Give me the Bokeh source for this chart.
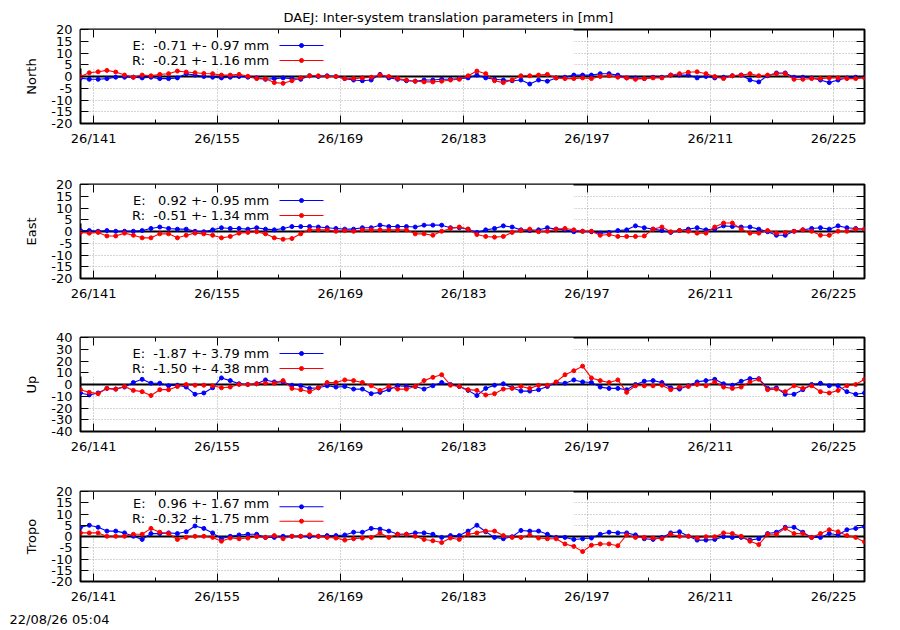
import re
from bokeh.plotting import figure
from bokeh.models import Range1d, FixedTicker, LinearAxis, BoxAnnotation, Span, Label, Title
from bokeh.layouts import column
from bokeh.embed import file_html
from bokeh.resources import INLINE

# ---------------- data ----------------
doy = list(range(139, 229))            # daily solutions, day of year 2026
x_days = [d + 0.5 for d in doy]        # plotted at noon

x_ticks = [141, 155, 169, 183, 197, 211, 225]
x_tick_labels = ["26/141", "26/155", "26/169", "26/183", "26/197", "26/211", "26/225"]
x_minor_ticks = [148, 162, 176, 190, 204, 218]

y_ticks_20 = [-20, -15, -10, -5, 0, 5, 10, 15, 20]
y_ticks_40 = [-40, -30, -20, -10, 0, 10, 20, 30, 40]

title_text = "DAEJ: Inter-system translation parameters in [mm]"
timestamp_text = "22/08/26 05:04"
panel_names = ["North", "East", "Up", "Tropo"]

north_E = [-0.7, -1.2, -1.2, -0.9, -0.3, -0.3, -0.3, -0.6, -0.3, -0.9,
           -0.9, -0.6, 1.2, 0.6, 0.0, -0.3, -0.6, -0.3, 0.0, -0.3,
           -0.6, -1.2, -0.9, -0.6, -0.9, -1.2, 0.3, 0.0, 0.3, 0.0,
           -0.9, -1.5, -1.8, -1.5, 0.9, -0.6, -1.2, -1.8, -2.0, -1.5,
           -1.5, -1.2, -1.2, -0.9, -0.6,
           0.6, -0.6, -1.2, -1.5, -1.8, -1.5, -3.2, -1.5, -2.0, -0.6,
           -0.3, 0.6, 0.6, 0.6, 1.2, 1.2, 0.6, -0.6, -0.6, -0.9,
           -0.3, -0.3, 0.6, 0.6, 0.6, -0.6, 0.0, -0.6, -0.3, 0.3,
           0.6, -1.5, -2.3, 0.3, 1.5, 1.5, -0.3, -0.3, -0.6, -1.5,
           -2.6, -1.5, -0.6, -0.3, -0.3]
north_R = [0.0, 1.6, 2.0, 2.6, 1.9, 0.6, -0.3, 0.6, 0.3, 0.9,
           1.2, 2.3, 1.9, 1.6, 1.3, 1.2, 0.6, 0.6, 0.9, 0.1,
           -0.9, -1.0, -2.6, -2.9, -1.8, -0.6, 0.3, 0.3, 0.0, 0.0,
           -0.9, -0.9, -0.6, -0.3, 0.6, 0.0, -0.9, -1.5, -2.0, -2.3,
           -2.3, -2.0, -1.5, -1.2, 0.3,
           2.3, 1.2, -1.8, -2.6, -1.5, 0.3, 0.3, 0.6, 0.9, -0.6,
           -0.9, -0.9, -0.6, -0.9, 0.0, 0.3, -0.3, -0.6, -1.2, -0.9,
           -0.6, -0.6, 0.6, 1.2, 1.8, 2.0, 1.2, 0.0, -0.9, 0.3,
           0.6, 1.2, 0.3, 0.6, 1.2, 1.2, -1.2, -1.2, -0.9, -0.9,
           -0.6, -0.6, -0.9, -0.9, -0.6]
east_E = [0.4, 0.4, 0.1, 0.4, 0.1, 0.1, 0.1, 0.4, 1.3, 1.9,
          1.3, 1.0, 1.0, 0.1, -0.1, 0.7, 1.6, 1.3, 1.3, 1.0,
          1.6, 1.0, 0.7, 1.3, 2.1, 2.1, 2.1, 1.9, 1.6, 1.3,
          1.0, 1.0, 1.6, 1.6, 2.7, 2.1, 2.1, 2.1, 1.9, 2.7,
          2.7, 2.7, 1.6, 1.6, 1.0,
          -0.4, 0.7, 1.3, 2.4, 1.9, 0.7, 0.4, 0.7, 1.6, 1.0,
          0.7, -0.1, 0.1, -0.1, -0.7, -0.4, 0.4, 0.7, 2.4, 1.6,
          1.0, 0.4, -0.4, 0.4, 1.0, 1.6, 0.7, 1.0, 2.4, 2.1,
          1.9, 1.9, 1.0, -0.1, -1.6, -1.6, 0.1, 0.7, 1.3, 1.6,
          1.0, 2.4, 1.6, 1.3, 1.0]
east_R = [-0.4, -0.7, -0.4, -1.9, -1.9, -0.7, -1.6, -2.7, -2.7, -1.0,
          -1.0, -2.7, -1.6, -0.7, -1.0, -1.6, -2.7, -2.1, -0.7, -0.4,
          -0.1, -1.0, -2.7, -3.3, -3.0, -1.0, 0.7, 0.7, 0.7, 0.1,
          0.4, 0.1, 0.7, 0.7, 0.7, 0.7, 0.7, 0.7, -1.0, -1.0,
          -1.6, 0.1, 1.3, 1.9, 1.0,
          -1.3, -2.1, -2.4, -2.1, -0.4, 0.4, 1.0, -0.1, 0.1, 1.0,
          1.3, 0.7, 0.1, 0.1, -1.6, -1.3, -2.1, -2.1, -2.1, -1.9,
          1.0, 1.9, -0.1, 0.4, 0.1, -0.7, -0.7, 1.9, 3.6, 3.6,
          1.0, -0.7, -0.7, 0.4, -0.7, -0.4, 0.1, 0.7, 0.1, -1.6,
          -1.6, 0.1, 0.1, 1.0, 1.0]
up_E = [-7.2, -8.9, -7.2, -3.3, -3.9, -2.2, 1.7, 4.4, 1.1, 1.1,
        -1.1, -0.6, -2.2, -8.3, -7.2, -2.8, 5.6, 3.3, 0.6, 0.0,
        0.6, 3.9, 2.2, 2.2, -0.6, -1.1, -3.3, -2.8, -1.1, -2.2,
        -1.7, -3.9, -3.9, -7.8, -6.7, -4.4, -1.1, -1.7, -1.7, -3.9,
        -1.1, 1.7, 0.0, -1.7, -5.0,
        -9.4, -3.3, -0.6, 0.6, -2.8, -5.6, -5.6, -4.4, -1.7, 1.7,
        1.1, 3.9, 2.2, 1.7, -2.2, -3.3, -3.3, -4.4, 0.0, 2.8,
        3.3, 1.7, -2.8, -3.9, -1.1, 2.2, 3.3, 4.4, 0.6, -0.6,
        2.8, 5.0, 5.0, -3.3, -2.8, -8.3, -8.3, -4.4, 0.0, 1.1,
        -1.1, -1.1, -6.1, -8.3, -7.2]
up_R = [-4.4, -6.7, -7.8, -3.3, -3.9, -1.7, -5.0, -6.1, -9.4, -4.4,
        -4.4, -1.7, 0.0, -0.6, -0.6, -1.1, -2.8, -2.2, 0.0, 0.0,
        0.6, 1.1, 1.1, 3.3, -3.3, -4.4, -6.1, -2.8, 1.7, 1.7,
        3.9, 3.3, 1.7, -1.1, -5.0, -1.7, -3.9, -3.9, -1.7, 3.3,
        6.1, 8.3, -0.6, -1.7, -4.4,
        -5.0, -8.9, -7.8, -3.9, -3.3, -1.7, -3.3, -0.6, -0.6, 2.2,
        8.3, 11.7, 15.6, 5.6, 3.3, 1.7, 3.9, -6.7, -1.1, -1.1,
        -1.1, -0.6, -4.4, -2.2, -1.7, 0.0, -1.1, 2.2, -2.2, -3.3,
        -2.2, 2.2, 4.4, -4.4, -3.9, -6.1, -1.1, -3.3, -1.1, -6.1,
        -7.2, -5.0, -1.1, 0.0, 4.4]
tropo_E = [4.1, 5.0, 4.1, 2.4, 2.4, 1.6, 0.1, -1.3, 1.3, 1.3,
           1.6, 1.3, 2.1, 4.7, 3.6, 1.6, -1.0, 0.1, 0.7, 1.0,
           1.0, -0.4, -0.4, 0.1, 0.1, 0.1, -0.1, 0.1, 0.4, 0.4,
           0.7, 1.9, 1.9, 3.6, 3.3, 2.4, 1.0, 1.0, 1.6, 1.6,
           1.0, -0.4, 0.4, 0.4, 2.4,
           5.0, 2.1, -0.4, -1.0, -0.1, 2.7, 2.4, 2.4, 1.0, -0.4,
           -0.4, -1.3, -1.0, -0.7, 1.0, 1.9, 1.6, 1.6, 0.7, -1.0,
           -1.3, -0.4, 1.6, 2.1, 0.1, -1.6, -1.6, -1.3, -0.1, -0.4,
           -0.4, -1.6, -1.0, 1.3, 1.9, 4.1, 4.1, 1.9, -0.4, -0.4,
           1.3, 0.7, 3.0, 3.6, 4.4]
tropo_R = [1.6, 1.6, 1.6, 0.1, 0.1, 0.1, 1.0, 1.0, 3.6, 1.9,
           1.3, -1.3, -0.4, 0.1, 0.1, -0.4, -2.1, -0.7, -1.0, -0.7,
           -0.1, -0.4, 0.4, -1.0, 0.1, 0.1, 0.7, 0.1, -0.4, -0.7,
           -1.6, -1.0, -0.7, -0.4, 1.6, -0.4, 1.0, 1.0, 0.1, -1.3,
           -1.9, -2.7, -0.7, -1.3, 1.0,
           1.6, 2.4, 2.4, 0.4, -0.4, -0.4, 0.7, -0.7, -1.0, -1.0,
           -3.3, -4.4, -6.7, -3.9, -3.3, -3.3, -4.1, 0.7, -0.4, -0.4,
           -0.7, -1.0, 1.0, 0.1, 0.1, -0.7, -0.1, -0.1, 1.6, 1.3,
           0.1, -2.1, -3.6, 1.0, 1.0, 3.6, 1.3, 1.3, -0.4, 1.3,
           3.0, 2.1, 0.4, -0.4, -2.4]

legend_E = ["E:  -0.71 +- 0.97 mm", "E:   0.92 +- 0.95 mm",
            "E:  -1.87 +- 3.79 mm", "E:   0.96 +- 1.67 mm"]
legend_R = ["R:  -0.21 +- 1.16 mm", "R:  -0.51 +- 1.34 mm",
            "R:  -1.50 +- 4.38 mm", "R:  -0.32 +- 1.75 mm"]
y_limits = [20, 20, 40, 20]

# ---------------- style / layout ----------------
FONT = "DejaVu Sans"
FS = "13px"
BLUE = "#0000ff"
RED = "#ff0000"
GRID = "#a8a8a8"
FIG_W = 900
B_LEFT, B_RIGHT = 80, 36
FRAME_W = FIG_W - B_LEFT - B_RIGHT
FRAME_H = 94
heights = [160, 154, 154, 161]
tops = [29, 24, 23, 23]

x0, x1 = x_days[0], x_days[-1]


def fx(px):
    return x0 + px / FRAME_W * (x1 - x0)


def fy(py, lim):
    return -lim + py / FRAME_H * (2 * lim)


def keep_spaces(s):
    # SVG collapses runs of blanks; keep gnuplot's padding with no-break spaces
    return re.sub(r" {2,}", lambda m: "\u00a0" * (len(m.group()) - 1) + " ", s)


def style_axis(ax, show_labels):
    ax.axis_line_color = None
    ax.major_tick_in = 8
    ax.major_tick_out = 0
    ax.minor_tick_in = 4
    ax.minor_tick_out = 0
    ax.major_tick_line_color = "black"
    ax.minor_tick_line_color = "black"
    ax.major_label_text_font = FONT
    ax.major_label_text_color = "black"
    if show_labels:
        ax.major_label_text_font_size = FS
    else:
        ax.major_label_text_font_size = "0px"
        ax.major_label_text_color = None
        ax.major_label_standoff = 0


figs = []
series = [(north_E, north_R), (east_E, east_R), (up_E, up_R), (tropo_E, tropo_R)]
for k in range(4):
    lim = y_limits[k]
    yt_vals = y_ticks_20 if lim == 20 else y_ticks_40
    h = heights[k]
    p = figure(width=FIG_W, height=h,
               x_range=Range1d(x0, x1), y_range=Range1d(-lim, lim),
               output_backend="svg", toolbar_location=None,
               min_border_left=B_LEFT, min_border_right=B_RIGHT,
               min_border_top=tops[k], min_border_bottom=h - tops[k] - FRAME_H,
               background_fill_color="white", border_fill_color="white")
    p.outline_line_color = "black"
    p.outline_line_width = 2
    p.outline_line_alpha = 1.0

    xt = FixedTicker(ticks=x_ticks, minor_ticks=x_minor_ticks)
    yt = FixedTicker(ticks=yt_vals, minor_ticks=[])

    p.xaxis.ticker = xt
    p.xaxis.major_label_overrides = dict(zip(x_ticks, x_tick_labels))
    p.yaxis.ticker = yt
    p.yaxis.major_label_overrides = {v: str(v) for v in yt_vals}
    for ax in p.xaxis:
        style_axis(ax, True)
        ax.major_label_standoff = 7
    for ax in p.yaxis:
        style_axis(ax, True)
        ax.major_label_standoff = 8
        ax.axis_label = panel_names[k]
        ax.axis_label_text_font = FONT
        ax.axis_label_text_font_size = FS
        ax.axis_label_text_font_style = "normal"
        ax.axis_label_text_color = "black"
        ax.axis_label_standoff = 9

    top_ax = LinearAxis(ticker=FixedTicker(ticks=x_ticks, minor_ticks=x_minor_ticks))
    style_axis(top_ax, False)
    p.add_layout(top_ax, "above")
    right_ax = LinearAxis(ticker=FixedTicker(ticks=yt_vals, minor_ticks=[]))
    style_axis(right_ax, False)
    p.add_layout(right_ax, "right")

    p.xgrid.ticker = FixedTicker(ticks=x_ticks)
    p.ygrid.ticker = FixedTicker(ticks=yt_vals)
    for g in (p.xgrid, p.ygrid):
        g.grid_line_color = GRID
        g.grid_line_dash = "1 2"
        g.grid_line_width = 1

    # opaque key box (hides grid behind the key)
    box = BoxAnnotation(left=x0, right=fx(493), top=lim, bottom=fy(FRAME_H - 39, lim),
                        fill_color="white", fill_alpha=1.0, line_color=None,
                        level="underlay")
    p.add_layout(box)
    zero = Span(location=0, dimension="width", line_color="black", line_width=2,
                level="underlay")
    p.add_layout(zero)

    e_vals, r_vals = series[k]
    p.line(x_days, e_vals, line_color=BLUE, line_width=1.1)
    p.scatter(x_days, e_vals, marker="circle", size=4, fill_color=BLUE, line_color=BLUE)
    p.line(x_days, r_vals, line_color=RED, line_width=1.1)
    p.scatter(x_days, r_vals, marker="circle", size=4, fill_color=RED, line_color=RED)

    # key (text right-aligned, sample to the right)
    for row_y, txt, col in ((FRAME_H - 16, legend_E[k], BLUE), (FRAME_H - 31, legend_R[k], RED)):
        p.add_layout(Label(x=188.7, y=row_y, x_units="screen", y_units="screen",
                           text=keep_spaces(txt), text_align="right", text_baseline="middle",
                           text_font=FONT, text_font_size=FS, text_color="black"))
        p.line([fx(199), fx(243)], [fy(row_y, lim), fy(row_y, lim)], line_color=col, line_width=1.1)
        p.scatter([fx(221)], [fy(row_y, lim)], marker="circle", size=4,
                  fill_color=col, line_color=col)
    figs.append(p)

# title and timestamp
figs[0].add_layout(Title(text=title_text, align="left", offset=203, standoff=9,
                         text_font=FONT, text_font_size=FS, text_font_style="normal",
                         text_color="black"), "above")
figs[3].add_layout(Title(text=timestamp_text, align="left", offset=-71, standoff=6,
                         text_font=FONT, text_font_size=FS, text_font_style="normal",
                         text_color="black"), "below")

layout = column(*figs, spacing=0)
open("out.html", "w").write(file_html(layout, INLINE))
